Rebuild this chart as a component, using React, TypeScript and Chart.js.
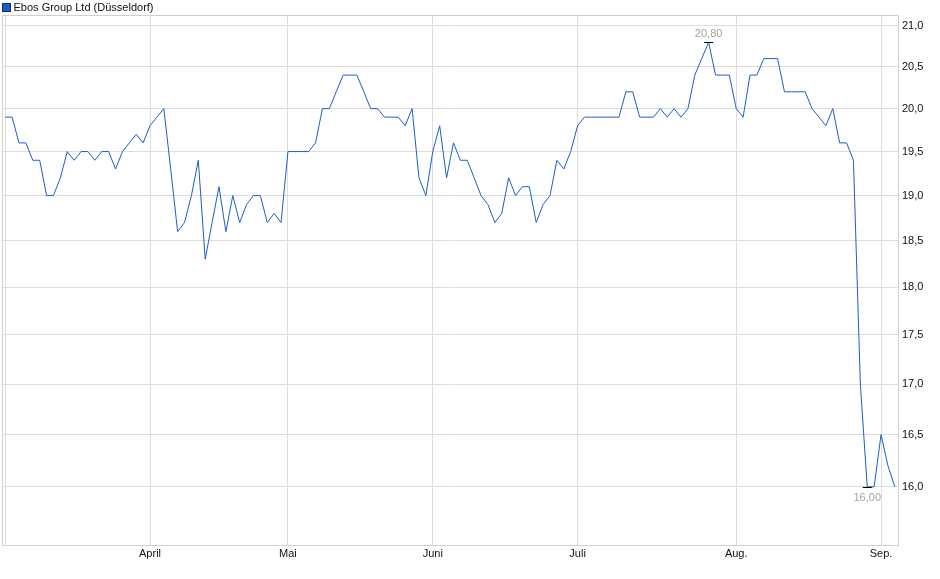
import { Chart, registerables } from 'chart.js';
import { useEffect, useRef } from 'react';

Chart.register(...registerables);

// Daily closing prices (EUR), 3 March 2025 to 3 September 2025
const prices = [
  19.9, 19.9, 19.6, 19.6, 19.4, 19.4, 19.0, 19.0, 19.2, 19.5,
  19.4, 19.5, 19.5, 19.4, 19.5, 19.5, 19.3, 19.5, 19.6, 19.7,
  19.6, 19.8, 19.9, 20.0, 19.3, 18.6, 18.7, 19.0, 19.4, 18.3,
  18.7, 19.1, 18.6, 19.0, 18.7, 18.9, 19.0, 19.0, 18.7, 18.8,
  18.7, 19.5, 19.5, 19.5, 19.5, 19.6, 20.0, 20.0, 20.2, 20.4,
  20.4, 20.4, 20.2, 20.0, 20.0, 19.9, 19.9, 19.9, 19.8, 20.0,
  19.2, 19.0, 19.5, 19.8, 19.2, 19.6, 19.4, 19.4, 19.2, 19.0,
  18.9, 18.7, 18.8, 19.2, 19.0, 19.1, 19.1, 18.7, 18.9, 19.0,
  19.4, 19.3, 19.5, 19.8, 19.9, 19.9, 19.9, 19.9, 19.9, 19.9,
  20.2, 20.2, 19.9, 19.9, 19.9, 20.0, 19.9, 20.0, 19.9, 20.0,
  20.4, 20.6, 20.8, 20.4, 20.4, 20.4, 20.0, 19.9, 20.4, 20.4,
  20.6, 20.6, 20.6, 20.2, 20.2, 20.2, 20.2, 20.0, 19.9, 19.8,
  20.0, 19.6, 19.6, 19.4, 17.0, 16.0, 16.0, 16.5, 16.2, 16.0,
];

// index of the first trading day of each month
const monthStarts = [0, 21, 41, 62, 83, 106, 127];
const monthNames = ['', 'April', 'Mai', 'Juni', 'Juli', 'Aug.', 'Sep.'];

const yTicks = [16, 16.5, 17, 17.5, 18, 18.5, 19, 19.5, 20, 20.5, 21];

const seriesName = 'Ebos Group Ltd (Düsseldorf)';

const FONT = '"Liberation Sans", Arial, sans-serif';
const LINE = '#1b5ec9';
const GRID = '#dddddd';

const fmt = (v: number, d: number) => v.toFixed(d).replace('.', ',');

// frame, legend and min/max markers
const decorations = {
  id: 'decorations',
  afterDatasetsDraw(chart: Chart) {
    const { ctx, chartArea } = chart;
    ctx.save();

    ctx.strokeStyle = '#d0d0d0';
    ctx.lineWidth = 1;
    ctx.strokeRect(
      Math.round(chartArea.left) - 0.5,
      Math.round(chartArea.top) - 0.5,
      Math.round(chartArea.right - chartArea.left) + 1,
      Math.round(chartArea.bottom - chartArea.top) + 1,
    );

    const meta = chart.getDatasetMeta(0);
    const hi = prices.indexOf(Math.max(...prices));
    const lo = prices.indexOf(Math.min(...prices));
    ctx.font = `11px ${FONT}`;
    ctx.textAlign = 'center';
    ctx.textBaseline = 'middle';
    [
      { i: hi, dy: -8, color: '#a89f90' },
      { i: lo, dy: 11.5, color: '#a3a6ae' },
    ].forEach(({ i, dy, color }) => {
      const p = meta.data[i];
      const y = Math.round(p.y) + 0.5;
      ctx.strokeStyle = '#000';
      ctx.beginPath();
      ctx.moveTo(p.x - 4.5, y);
      ctx.lineTo(p.x + 4.5, y);
      ctx.stroke();
      ctx.fillStyle = color;
      ctx.fillText(fmt(prices[i], 2), p.x, p.y + dy);
    });
    ctx.restore();
  },
  afterDraw(chart: Chart) {
    const { ctx } = chart;
    ctx.save();
    ctx.fillStyle = '#1c5cc4';
    ctx.strokeStyle = '#142d6a';
    ctx.lineWidth = 1;
    ctx.fillRect(2.5, 3.5, 8, 8);
    ctx.strokeRect(2.5, 3.5, 8, 8);
    ctx.font = `11px ${FONT}`;
    ctx.fillStyle = '#111';
    ctx.textAlign = 'left';
    ctx.textBaseline = 'middle';
    ctx.fillText(seriesName, 13.5, 7.5);
    ctx.restore();
  },
};

export default function App() {
  const canvasRef = useRef<HTMLCanvasElement>(null);

  useEffect(() => {
    if (!canvasRef.current) return;

    const chart = new Chart(canvasRef.current, {
      type: 'line',
      data: {
        datasets: [
          {
            label: seriesName,
            data: prices.map((y, x) => ({ x, y })),
            borderColor: LINE,
            backgroundColor: LINE,
            borderWidth: 1,
            pointRadius: 0,
            tension: 0,
            fill: false,
          },
        ],
      },
      options: {
        responsive: false,
        animation: false,
        devicePixelRatio: 1,
        layout: { padding: { left: 3, top: 16, right: 0, bottom: 0 } },
        plugins: {
          legend: { display: false },
          tooltip: { enabled: false },
        },
        scales: {
          x: {
            type: 'linear',
            min: -0.32,
            max: 129.46,
            afterBuildTicks: (scale: any) => {
              scale.ticks = monthStarts.map((value) => ({ value }));
            },
            afterFit: (scale: any) => {
              scale.height = 34;
            },
            ticks: {
              autoSkip: false,
              maxRotation: 0,
              padding: 2,
              color: '#111',
              font: { family: FONT, size: 11 },
              callback: (v: any) => monthNames[monthStarts.indexOf(Number(v))] ?? '',
            },
            grid: { color: GRID, drawTicks: false },
            border: { color: '#d0d0d0' },
          },
          y: {
            type: 'logarithmic',
            position: 'right',
            min: 15.46,
            max: 21.124,
            afterBuildTicks: (scale: any) => {
              scale.ticks = yTicks.map((value) => ({ value }));
            },
            afterFit: (scale: any) => {
              scale.width = 42;
            },
            ticks: {
              padding: 4,
              color: '#111',
              font: { family: FONT, size: 11 },
              callback: (v: any) => fmt(Number(v), 1),
            },
            grid: { color: GRID, drawTicks: false },
            border: { color: '#d0d0d0' },
          },
        },
      },
      plugins: [decorations],
    });

    return () => chart.destroy();
  }, []);

  return (
    <div style={{ position: 'absolute', left: 0, top: 0, width: 940, height: 579, background: '#fff' }}>
      <canvas ref={canvasRef} width={940} height={579}></canvas>
    </div>
  );
}
